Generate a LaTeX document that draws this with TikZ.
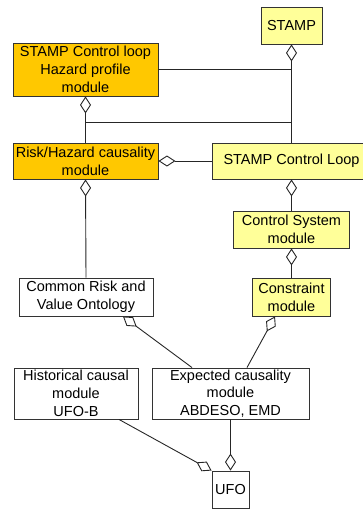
\documentclass[tikz,border=0pt]{standalone}
\usepackage{fontspec}
\setmainfont{Liberation Sans}
\usetikzlibrary{arrows.meta,calc}
\definecolor{hazorange}{RGB}{255,200,0}
\definecolor{stampyellow}{RGB}{255,255,153}
\begin{document}
\begin{tikzpicture}[x=1pt,y=-1pt,
  box/.style={draw=black!80, line width=0.9pt, fill=white, align=center,
    inner sep=0pt, font=\fontsize{14.5}{17.7}\selectfont},
  orangebox/.style={box, fill=hazorange},
  yellowbox/.style={box, fill=stampyellow},
  link/.style={draw=black!85, line width=0.9pt},
  aggstart/.style={{Diamond[fill=white,length=17pt,width=11pt]}-},
  aggend/.style={-{Diamond[fill=white,length=17pt,width=11pt]}},
]
\useasboundingbox (0,0) rectangle (362,509);

% modules
\node[yellowbox, minimum width=61pt, minimum height=37pt] (stamp) at (291.5,25.5) {STAMP};
\node[orangebox, minimum width=145pt, minimum height=53pt] (hp) at (85.5,69.5)
  {STAMP Control loop\\Hazard profile\\module};
\node[orangebox, minimum width=145pt, minimum height=36pt] (risk) at (85.5,161)
  {Risk/Hazard causality\\module};
\node[yellowbox, minimum width=159pt, minimum height=36pt] (scl) at (291.5,161)
  {STAMP Control Loop};
\node[yellowbox, minimum width=116pt, minimum height=37pt] (cs) at (291.5,229.5)
  {Control System\\module};
\node[box, minimum width=134pt, minimum height=38pt] (crvo) at (86,297)
  {Common Risk and\\Value Ontology};
\node[yellowbox, minimum width=78pt, minimum height=38pt] (con) at (291.5,297)
  {Constraint\\module};
\node[box, minimum width=124pt, minimum height=51pt] (hist) at (76,393.5)
  {Historical causal\\module\\UFO-B};
\node[box, minimum width=157pt, minimum height=51pt] (exp) at (230.5,393.5)
  {Expected causality\\module\\ABDESO, EMD};
\node[box, minimum width=37pt, minimum height=37pt] (ufo) at (230.5,489.5) {UFO};

% junction points of the upper bus
\coordinate (jl) at (85.5,122);
\coordinate (jr) at (291.5,122);
\coordinate (jt) at (291.5,69.5);

% aggregation links
\draw[link, aggstart] (stamp.south) -- (scl.north);
\draw[link] (hp.east) -- (jt);
\draw[link, aggstart] (hp.south) -- (risk.north);
\draw[link] (jl) -- (jr);
\draw[link, aggstart] (risk.east) -- (scl.west);
\draw[link, aggstart] (risk.south) -- (crvo.north);
\draw[link, aggstart] (scl.south) -- (cs.north);
\draw[link, aggstart] (cs.south) -- (con.north);
\draw[link, aggstart] ($(crvo.south)+(37,0)$) -- ($(exp.north)+(-38.5,0)$);
\draw[link, aggstart] ($(con.south)+(-16.5,0)$) -- ($(exp.north)+(16.5,0)$);
\draw[link, aggend] (exp.south) -- (ufo.north);
\draw[link, aggend] ($(hist.south)+(43,0)$) -- (ufo.north west);
\end{tikzpicture}
\end{document}
